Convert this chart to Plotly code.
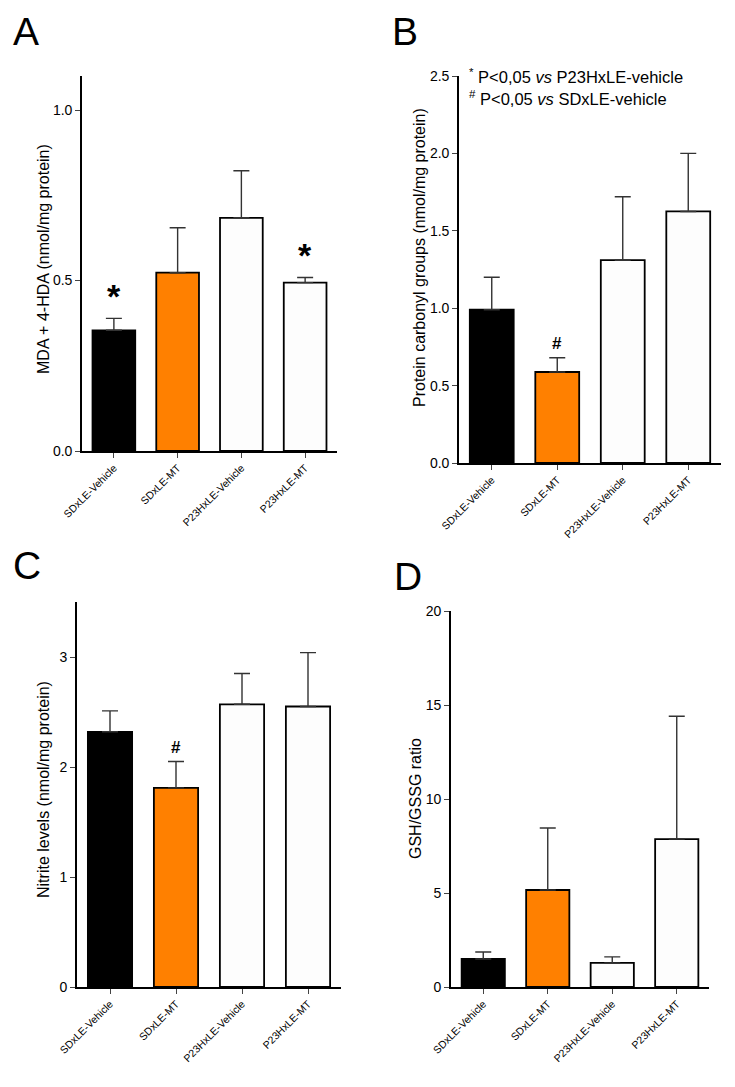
import plotly.graph_objects as go

groups = ['SDxLE-Vehicle', 'SDxLE-MT', 'P23HxLE-Vehicle', 'P23HxLE-MT']
bar_colors = ['#000000', '#FF8000', '#FDFDFD', '#FDFDFD']

# A: MDA + 4-HDA
mda_mean = [0.354, 0.523, 0.684, 0.494]
mda_top = [0.389, 0.655, 0.822, 0.509]
# B: protein carbonyl groups
carb_mean = [0.99, 0.588, 1.31, 1.625]
carb_top = [1.20, 0.68, 1.72, 2.0]
# C: nitrite levels
nit_mean = [2.32, 1.81, 2.57, 2.55]
nit_top = [2.51, 2.05, 2.85, 3.04]
# D: GSH/GSSG ratio
gsh_mean = [1.49, 5.16, 1.28, 7.87]
gsh_top = [1.86, 8.46, 1.6, 14.4]

# page body has an 8px margin, so the figure is drawn 8px in from the corner
OFF = 8
W, H = 735 - 2 * OFF, 1087 - 2 * OFF

def fx(x):
    return (x - OFF) / W

def fy(y):
    return 1 - (y - OFF) / H

panels = [
    # values, tops, x px, y px (bottom, top), y range, dtick, tickformat
    (mda_mean, mda_top, (82, 337), (451, 76), [0, 1.1], 0.5, '.1f'),
    (carb_mean, carb_top, (459, 721), (463, 76), [0, 2.5], 0.5, '.1f'),
    (nit_mean, nit_top, (77, 341), (987, 602), [0, 3.5], 1, 'd'),
    (gsh_mean, gsh_top, (451, 709), (987, 611), [0, 20], 5, 'd'),
]

fig = go.Figure()
font = 'Liberation Sans, Arial, sans-serif'

for i, (vals, tops, xp, yp, yr, dt, tf) in enumerate(panels):
    n = '' if i == 0 else str(i + 1)
    fig.add_trace(go.Bar(
        x=list(range(len(groups))), y=vals,
        marker=dict(color=bar_colors, line=dict(color='#000000', width=1.8)),
        width=0.67,
        error_y=dict(type='data', symmetric=False,
                     array=[t - v for t, v in zip(tops, vals)],
                     arrayminus=[0] * len(vals),
                     color='#333333', thickness=1.4, width=8),
        xaxis='x' + n, yaxis='y' + n, showlegend=False))
    fig.layout['xaxis' + n] = dict(
        domain=[fx(xp[0]), fx(xp[1])], anchor='y' + n, range=[-0.5, 3.5],
        automargin=False,
        tickmode='array', tickvals=list(range(4)), ticktext=groups,
        tickangle=-45, ticks='outside', ticklen=5, tickwidth=1.3,
        showline=True, linecolor='black', linewidth=1.6,
        showgrid=False, zeroline=False,
        tickfont=dict(size=10.5, family=font, color='#000000'))
    fig.layout['yaxis' + n] = dict(
        domain=[fy(yp[0]), fy(yp[1])], anchor='x' + n, range=yr, dtick=dt,
        tick0=0, tickformat=tf, automargin=False,
        ticks='outside', ticklen=5, tickwidth=1.3,
        showline=True, linecolor='black', linewidth=1.6,
        showgrid=False, zeroline=False,
        tickfont=dict(size=14, family=font, color='#000000'))

ann = []
# y axis titles
for txt, x, y in [('MDA + 4-HDA (nmol/mg protein)', 43, 259),
                  ('Protein carbonyl groups (nmol/mg protein)', 419, 258),
                  ('Nitrite levels (nmol/mg protein)', 43, 790),
                  ('GSH/GSSG ratio', 415, 799)]:
    ann.append(dict(text=txt, x=fx(x), y=fy(y), xref='paper', yref='paper',
                    textangle=-90, showarrow=False,
                    xanchor='center', yanchor='middle',
                    font=dict(size=16, family=font, color='#000000')))
# panel letters
for txt, x, y in [('A', 11, 8), ('B', 390, 8), ('C', 11, 542), ('D', 392, 553)]:
    ann.append(dict(text=txt, x=fx(x), y=fy(y), xref='paper', yref='paper',
                    xanchor='left', yanchor='top', showarrow=False,
                    font=dict(size=39, family=font, color='black')))
# significance marks
star = dict(size=34, family=font, color='black')
hashf = dict(size=17, family=font, color='black')
ann.append(dict(text='<b>*</b>', x=0, y=0.455, xref='x', yref='y', showarrow=False,
                yanchor='middle', font=star))
ann.append(dict(text='<b>*</b>', x=3, y=0.575, xref='x', yref='y', showarrow=False,
                yanchor='middle', font=star))
ann.append(dict(text='<b>#</b>', x=1, y=0.77, xref='x2', yref='y2', showarrow=False,
                yanchor='middle', font=hashf))
ann.append(dict(text='<b>#</b>', x=1, y=2.18, xref='x3', yref='y3', showarrow=False,
                yanchor='middle', font=hashf))
# legend in B
leg = dict(size=16.5, family=font, color='black')
ann.append(dict(text='<sup>*</sup> P&lt;0,05 <i>vs</i> P23HxLE-vehicle',
                x=fx(467), y=fy(76), xref='paper', yref='paper',
                xanchor='left', yanchor='middle', showarrow=False, font=leg))
ann.append(dict(text='<sup>#</sup> P&lt;0,05 <i>vs</i> SDxLE-vehicle',
                x=fx(467), y=fy(98), xref='paper', yref='paper',
                xanchor='left', yanchor='middle', showarrow=False, font=leg))

fig.update_layout(width=W, height=H, margin=dict(l=0, r=0, t=0, b=0, pad=0),
                  plot_bgcolor='white', paper_bgcolor='white',
                  annotations=ann, bargap=0.3)

fig.write_html('out.html')
